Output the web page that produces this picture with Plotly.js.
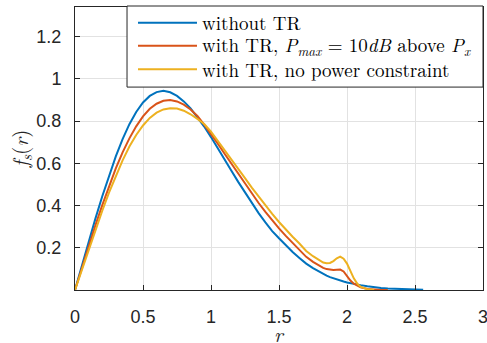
<!DOCTYPE html>
<html>
<head>
<meta charset="utf-8">
<script src="https://cdn.plot.ly/plotly-3.0.1.min.js"></script>
<style>
  html, body { margin: 0; padding: 0; background: #ffffff; }
  #chart { width: 487px; height: 343px; }
</style>
</head>
<body>
<div id="chart"></div>
<script>
// ---- data ----
const r = [0,0.05,0.1,0.15,0.2,0.25,0.3,0.35,0.4,0.45,0.5,0.55,0.6,0.65,0.7,0.75,0.8,0.85,0.9,0.95,
  1.0,1.05,1.1,1.15,1.2,1.25,1.3,1.35,1.4,1.45,1.5,1.55,1.6,1.65,1.7,1.75,1.8,
  1.825,1.85,1.875,1.9,1.925,1.95,1.975,2.0,2.025,2.05,2.075,2.1,
  2.15,2.2,2.25,2.3,2.4,2.5,2.56];

const withoutTR = [0,0.115,0.228,0.338,0.443,0.542,0.633,0.714,0.785,0.843,0.888,0.919,0.937,0.943,0.936,0.919,0.893,0.860,0.819,0.774,
  0.724,0.673,0.619,0.565,0.512,0.461,0.411,0.364,0.320,0.279,0.245,0.211,0.180,0.152,0.125,0.104,0.085,
  0.076,0.068,0.061,0.055,0.050,0.045,0.040,0.036,0.032,0.029,0.026,0.023,
  0.018,0.013,0.010,0.007,0.004,0.002,0.001];

const withTRPmax = [0,0.104,0.206,0.306,0.401,0.492,0.576,0.652,0.718,0.775,0.822,0.858,0.882,0.896,0.900,0.893,0.878,0.855,0.824,0.783,
  0.740,0.693,0.645,0.598,0.550,0.503,0.457,0.412,0.370,0.330,0.292,0.256,0.222,0.190,0.157,0.133,0.113,
  0.105,0.099,0.096,0.095,0.096,0.097,0.088,0.066,0.045,0.030,0.020,0.013,
  0.005,0.002,0.0005,0,null,null,null];

const withTRNoConstraint = [0,0.096,0.191,0.284,0.374,0.461,0.542,0.614,0.679,0.734,0.779,0.815,0.840,0.855,0.861,0.859,0.849,0.832,0.810,0.786,
  0.750,0.707,0.662,0.618,0.574,0.530,0.485,0.442,0.400,0.360,0.322,0.286,0.252,0.220,0.185,0.160,0.138,
  0.130,0.127,0.128,0.137,0.150,0.158,0.148,0.125,0.090,0.055,0.030,0.015,
  0.004,0,null,null,null,null,null];

const seriesNames = [
  'without TR',
  'with TR, <i>P</i><sub><i>max</i></sub> = 10<i>dB</i> above <i>P</i><sub><i>x</i></sub>',
  'with TR, no power constraint'
];
const seriesColors = ['#0072BD', '#D95319', '#EDB120'];

const xTickVals = [0, 0.5, 1, 1.5, 2, 2.5, 3];
const xTickText = ['0', '0.5', '1', '1.5', '2', '2.5', '3'];
const yTickVals = [0.2, 0.4, 0.6, 0.8, 1, 1.2];
const yTickText = ['0.2', '0.4', '0.6', '0.8', '1', '1.2'];
const xTitle = '<i>r</i>';
const yTitle = '<i>f</i><sub><i>s</i></sub>(<i>r</i>)';

// ---- chart ----
const seriesData = [withoutTR, withTRPmax, withTRNoConstraint];
const traces = seriesData.map((ys, i) => ({
  x: r, y: ys, type: 'scatter', mode: 'lines', name: seriesNames[i],
  line: { color: seriesColors[i], width: 2 }, showlegend: false,
  connectgaps: false, hoverinfo: 'skip'
}));

const axisColor = '#262626';
const tickFont = { family: 'Liberation Sans', size: 18, color: axisColor };
const serif = 'Latin Modern Roman, Liberation Serif, serif';

// legend drawn as a box in paper coordinates (MATLAB style, long line samples)
const legX0 = 0.1275, legX1 = 1.0, legY0 = 0.717, legY1 = 1.0035;
const legRows = [0.9445, 0.8633, 0.7799];
const lineX0 = 0.1544, lineX1 = 0.299, textX = 0.309;

const shapes = [{
  type: 'rect', xref: 'paper', yref: 'paper', x0: legX0, x1: legX1, y0: legY0, y1: legY1,
  fillcolor: '#ffffff', line: { color: axisColor, width: 1 }, layer: 'above'
}];
const annotations = [];
legRows.forEach((yy, i) => {
  shapes.push({ type: 'line', xref: 'paper', yref: 'paper', x0: lineX0, x1: lineX1, y0: yy, y1: yy,
    line: { color: seriesColors[i], width: 2 }, layer: 'above' });
  annotations.push({ xref: 'paper', yref: 'paper', x: textX, y: yy, xanchor: 'left', yanchor: 'middle',
    text: seriesNames[i], showarrow: false, borderpad: 0,
    font: { family: serif, size: 19, color: '#000000' } });
});
// x-axis title placed as in the reference
annotations.push({ xref: 'paper', yref: 'paper', x: 0.5, y: -0.152, xanchor: 'center', yanchor: 'middle',
  text: xTitle, showarrow: false, borderpad: 0, font: { family: serif, size: 21, color: axisColor } });

const layout = {
  width: 487, height: 343,
  margin: { l: 75, r: 4, t: 7, b: 53 },
  paper_bgcolor: '#ffffff', plot_bgcolor: '#ffffff',
  showlegend: false,
  xaxis: {
    range: [0, 3], tickvals: xTickVals, ticktext: xTickText,
    ticks: 'inside', ticklen: 5, tickcolor: axisColor, tickwidth: 1,
    showline: true, linecolor: axisColor, linewidth: 1, mirror: 'ticks',
    showgrid: true, gridcolor: '#e2e2e2', gridwidth: 1, zeroline: false,
    tickfont: tickFont, ticklabelstandoff: 10, ticklabeloverflow: 'allow'
  },
  yaxis: {
    range: [0, 1.34], tickvals: yTickVals, ticktext: yTickText,
    ticks: 'inside', ticklen: 5, tickcolor: axisColor, tickwidth: 1,
    showline: true, linecolor: axisColor, linewidth: 1, mirror: 'ticks',
    showgrid: true, gridcolor: '#e2e2e2', gridwidth: 1, zeroline: false,
    tickfont: tickFont, ticklabelstandoff: 9,
    title: { text: yTitle, font: { family: serif, size: 21, color: axisColor }, standoff: 0 }
  },
  shapes: shapes,
  annotations: annotations
};

Plotly.newPlot('chart', traces, layout, { staticPlot: true, displayModeBar: false });
</script>
</body>
</html>
